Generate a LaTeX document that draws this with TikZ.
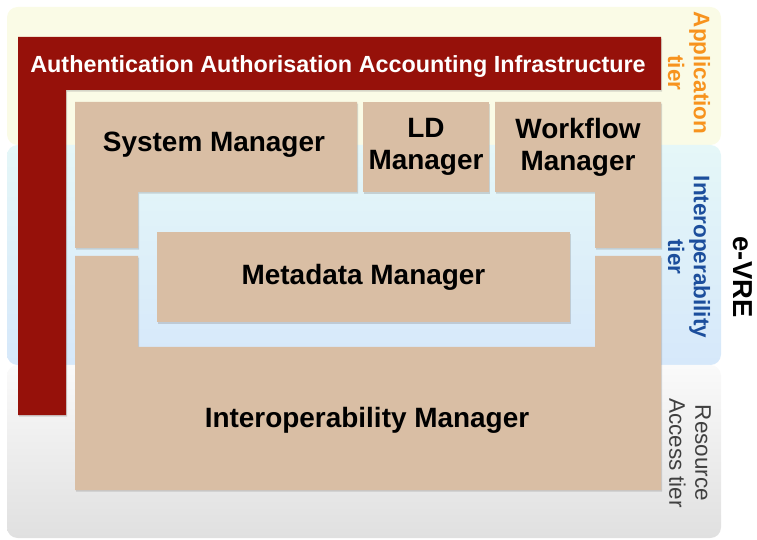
\documentclass[tikz,border=0pt]{standalone}
\usepackage{fontspec}
\setmainfont{Liberation Sans}
\usetikzlibrary{positioning,shadows}

\definecolor{aaared}{RGB}{150,17,10}
\definecolor{mgrtan}{RGB}{217,190,164}
\definecolor{apptier}{RGB}{250,251,230}
\definecolor{intertop}{RGB}{229,247,248}
\definecolor{interbot}{RGB}{214,232,250}
\definecolor{restop}{RGB}{250,250,250}
\definecolor{resbot}{RGB}{224,224,224}
\definecolor{apporange}{RGB}{247,147,30}
\definecolor{interblue}{RGB}{28,78,156}
\definecolor{resgray}{RGB}{64,64,64}

\begin{document}
\begin{tikzpicture}[x=0.02cm,y=-0.02cm,
  mgr/.style={fill=mgrtan,drop shadow={shadow xshift=0.6pt,shadow yshift=-0.9pt,opacity=0.3}},
  mgrtext/.style={font=\fontsize{15.9}{18.1}\selectfont\bfseries,align=center,inner sep=0pt},
  tierbold/.style={rotate=-90,align=center,font=\fontsize{12.8}{14.7}\selectfont\bfseries},
  tierplain/.style={rotate=-90,align=center,font=\fontsize{12.8}{14.7}\selectfont}]
  \useasboundingbox (0,0) rectangle (757,540);
  \fill[apptier,rounded corners=6] (7,7) rectangle (721,145);
  \shade[top color=intertop,bottom color=interbot,rounded corners=6] (7,145) rectangle (721,365);
  \shade[top color=restop,bottom color=resbot,rounded corners=6] (7,365) rectangle (721,538);
  \fill[aaared,drop shadow={shadow xshift=0.6pt,shadow yshift=-0.9pt,opacity=0.3}] (18,37) -| (661,90) -| (66,415) -| cycle;
  \fill[mgr] (75,102) -| (357,192) -| (138,248) -| cycle;
  \fill[mgr] (495,102) -| (661,248) -| (595,192) -| cycle;
  \fill[mgr] (75,256) -- (138,256) -- (138,347) -- (595,347) -- (595,256) -- (661,256) -- (661,490) -- (75,490) -- cycle;
  \node[white,anchor=base,font=\fontsize{13.3}{15}\selectfont\bfseries] (aaa) at (338,73) {Authentication Authorisation Accounting Infrastructure};
  \node[mgrtext,anchor=base] (sysmgr) at (214,152) {System Manager};
  \node[mgr,mgrtext,minimum width=2.52cm,minimum height=1.8cm] (ldmgr) at (426,147) {LD\\Manager};
  \node[mgrtext] (wfmgr) at (578,147) {Workflow\\Manager};
  \node[mgr,mgrtext,minimum width=8.26cm,minimum height=1.8cm] (mdmgr) at (363.5,277) {Metadata Manager};
  \node[mgrtext,anchor=base] (intmgr) at (367,427) {Interoperability Manager};
  \node[tierbold,apporange] (apptext) at (689,73) {Application\\tier};
  \node[tierbold,interblue] (intertext) at (689,257) {Interoperability\\tier};
  \node[tierplain,resgray] (restext) at (690,453) {Resource\\Access tier};
  \node[rotate=-90,font=\fontsize{15.6}{18}\selectfont\bfseries] (evre) at (743,277) {e-VRE};
\end{tikzpicture}
\end{document}
